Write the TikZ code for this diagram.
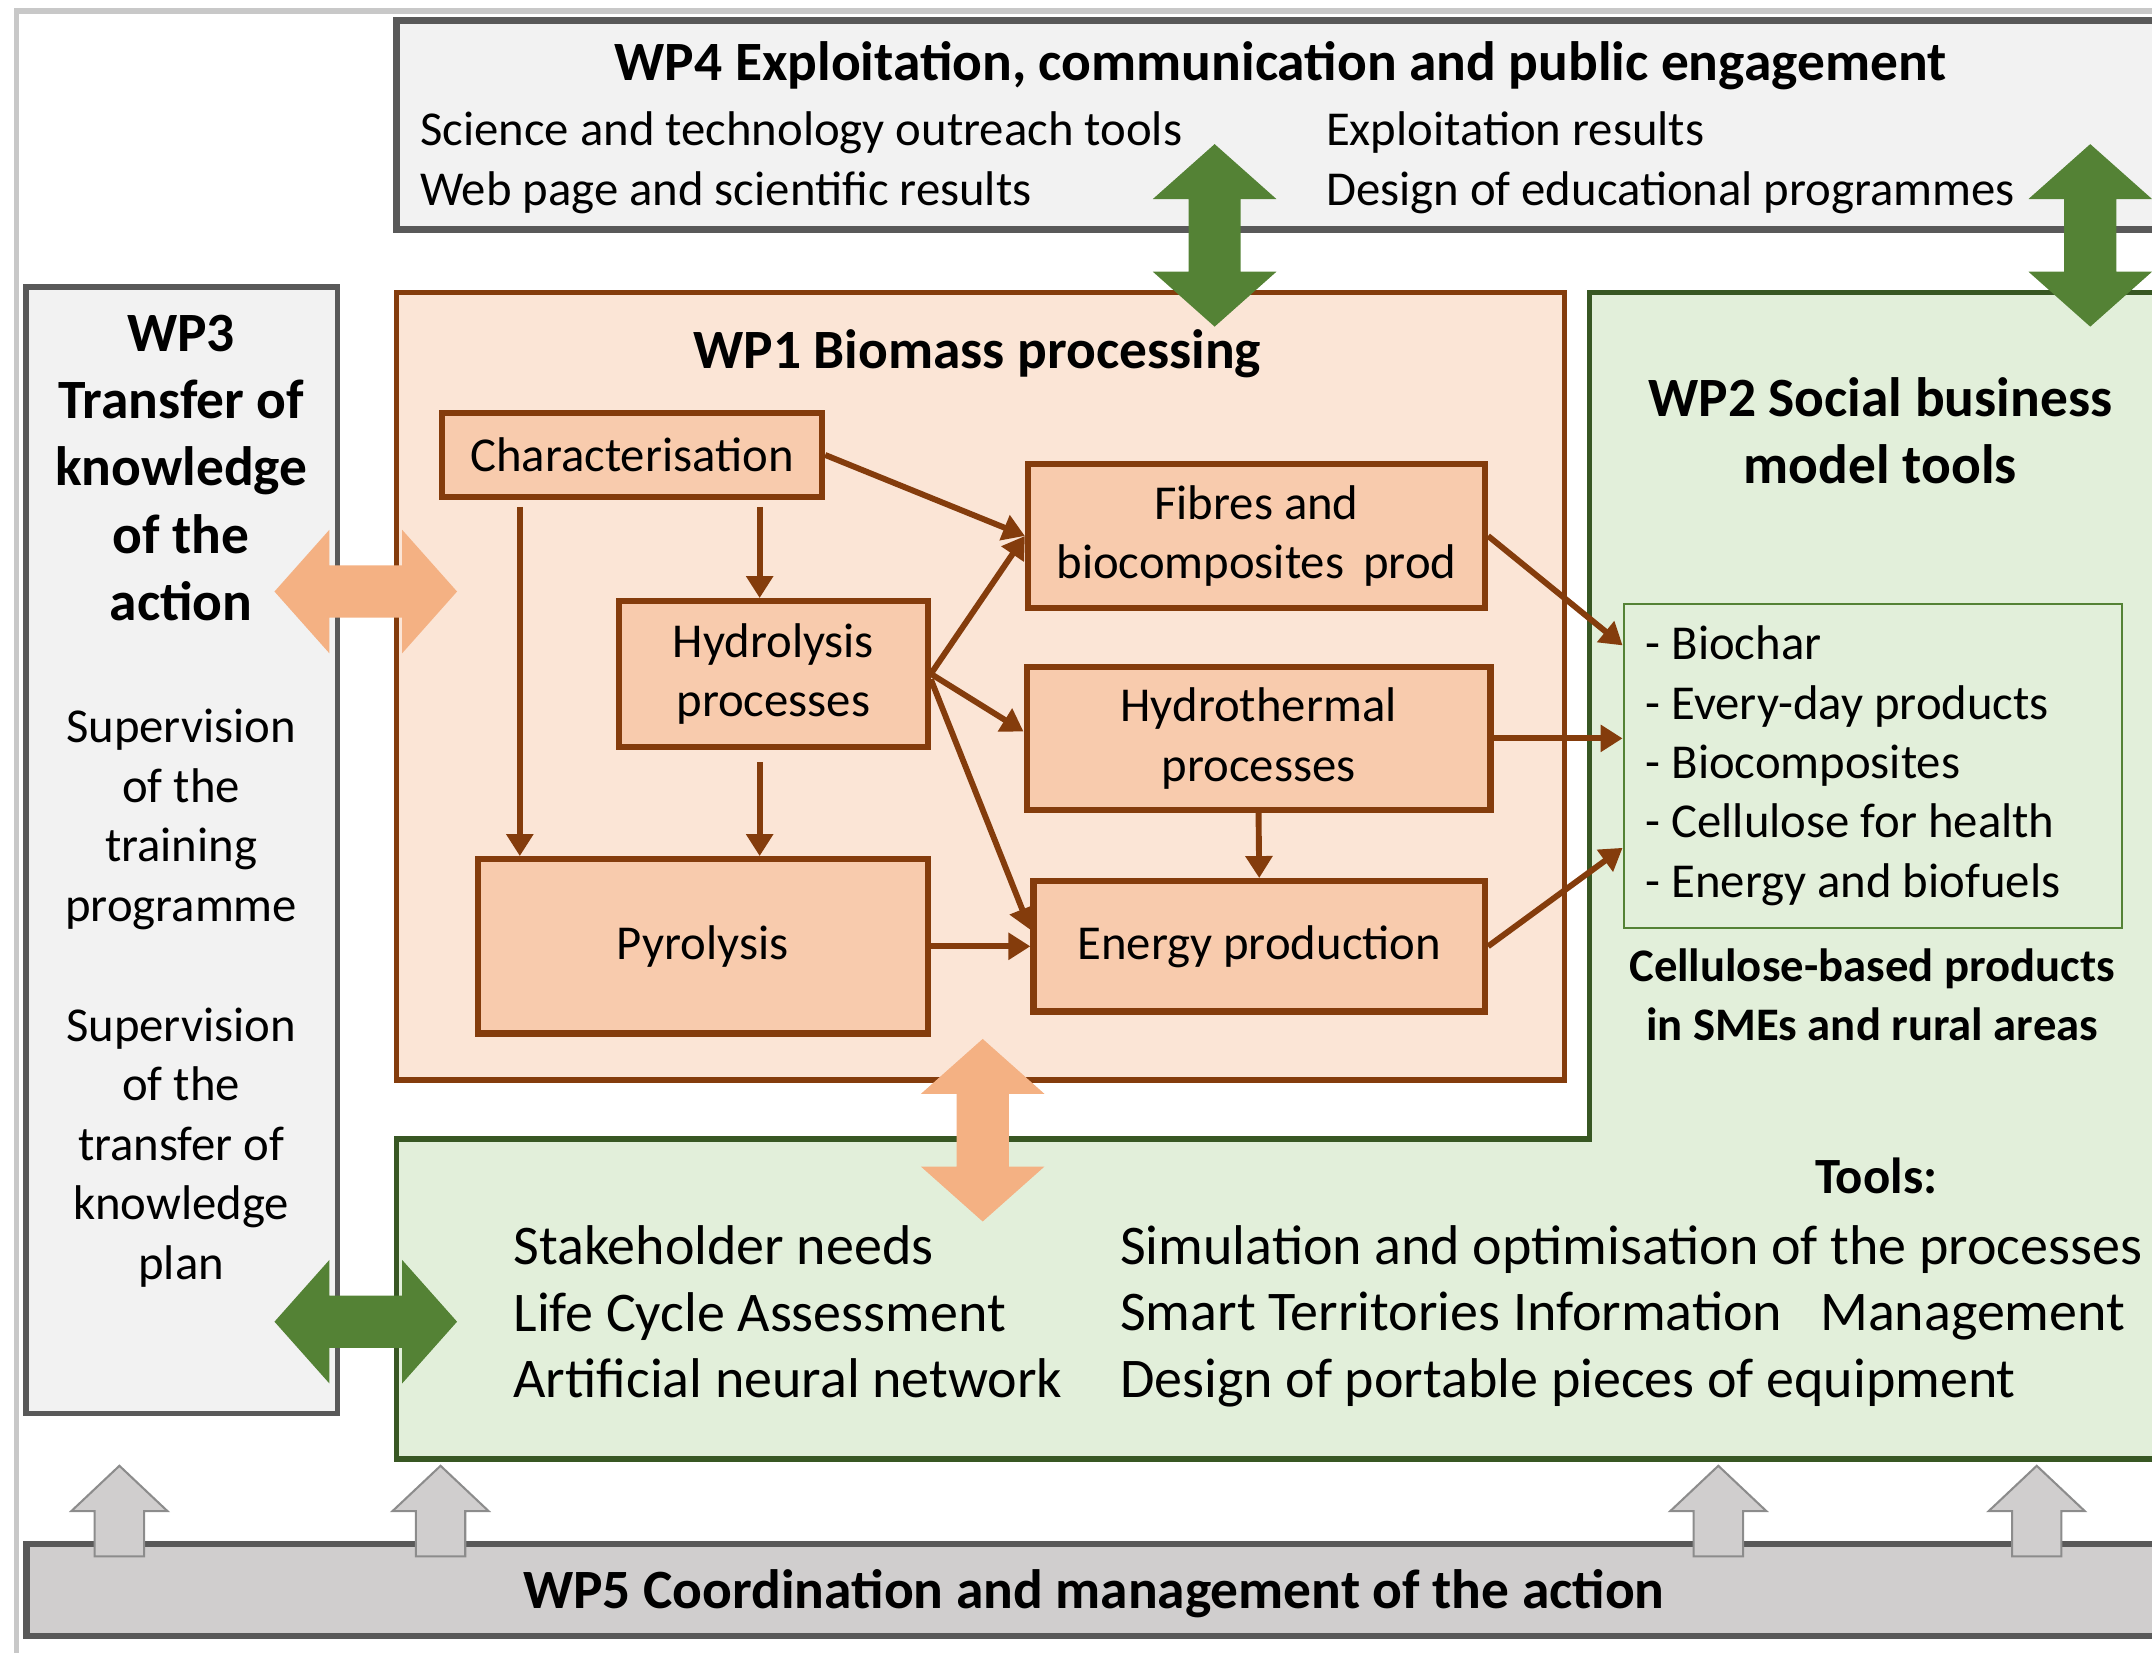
\documentclass[tikz,border=0pt]{standalone}
\usepackage{fontspec}
\setmainfont{Carlito}
\usetikzlibrary{arrows.meta, positioning}

\definecolor{wpgray}{HTML}{F2F2F2}
\definecolor{wpline}{HTML}{595959}
\definecolor{wpframe}{HTML}{C8C8C8}
\definecolor{wpbrown}{HTML}{843C0C}
\definecolor{wpsalmon}{HTML}{FBE5D6}
\definecolor{wppeach}{HTML}{F8CBAD}
\definecolor{wporange}{HTML}{F4B183}
\definecolor{wpmint}{HTML}{E2EFDA}
\definecolor{wpgreen}{HTML}{385723}
\definecolor{wpleaf}{HTML}{548235}
\definecolor{wpsilver}{HTML}{D0CECE}
\definecolor{wpedge}{HTML}{8C8C8C}

\begin{document}
\begin{tikzpicture}[x=1pt, y=-1pt,
    every node/.style={inner sep=0pt},
    body/.style={font=\fontsize{35.5}{43.3}\selectfont},
    big/.style={font=\fontsize{40.8}{48.5}\selectfont},
    head/.style={font=\fontsize{40.4}{49}\selectfont\bfseries},
    wpbox/.style={draw=wpline, fill=wpgray, line width=4pt},
    procbox/.style={draw=wpbrown, fill=wppeach, line width=4.5pt, body, align=center},
    flow/.style={draw=wpbrown, line width=4.3pt, -{Triangle[length=16pt, width=19pt]}},
    dblarrow/.pic={\fill[pic actions] (-66.5,0) -- (-26.5,-45) -- (-26.5,-19) -- (26.5,-19)
        -- (26.5,-45) -- (66.5,0) -- (26.5,45) -- (26.5,19) -- (-26.5,19) -- (-26.5,45) -- cycle;},
    uparrow/.pic={\filldraw[pic actions] (0,0) -- (35,33) -- (18,33) -- (18,66) -- (-18,66)
        -- (-18,33) -- (-35,33) -- cycle;}
]
    \useasboundingbox (0,0) rectangle (1568,1204);
    \clip (0,0) rectangle (1568,1204);

    % outer frame
    \draw[wpframe, line width=4pt] (12,1230) -- (12,8) -- (1600,8);

    % WP4
    \node[wpbox, line width=5pt, minimum width=1351pt, minimum height=152pt] (wp4) at (964.5,91) {};
    \node[head] (wp4title) at (933,48) {WP4 Exploitation, communication and public engagement};
    \node[body, align=left, anchor=west] (wp4left) at (306,118.5)
        {Science and technology outreach tools\\Web page and scientific results};
    \node[body, align=left, anchor=west] (wp4right) at (966,118.5)
        {Exploitation results\\Design of educational programmes};

    % WP3
    \node[wpbox, minimum width=227pt, minimum height=821pt] (wp3) at (132.5,619.5) {};
    \node[head, align=center] (wp3title) at (132,341) {WP3\\Transfer of\\knowledge\\of the\\action};
    \node[body, align=center] (sup1) at (132,597) {Supervision\\of the\\training\\programme};
    \node[body, align=center] (sup2) at (132,836) {Supervision\\of the\\transfer of\\knowledge\\plan};

    % WP1
    \node[draw=wpbrown, fill=wpsalmon, line width=4pt, minimum width=851pt, minimum height=574pt] (wp1) at (714.5,500) {};
    \node[head] (wp1title) at (712,258) {WP1 Biomass processing};

    % WP2
    \draw[draw=wpgreen, fill=wpmint, line width=4pt]
        (1158,213) -- (1600,213) -- (1600,1063) -- (289,1063) -- (289,830) -- (1158,830) -- cycle;
    \node[head, align=center] (wp2title) at (1370,314) {WP2 Social business\\model tools};
    \node[draw=wpleaf, fill=wpmint, line width=1.5pt, body, align=flush left, text width=331pt,
        inner sep=16pt, minimum height=236pt] (list) at (1364.5,558)
        {- Biochar\\- Every-day products\\- Biocomposites\\- Cellulose for health\\- Energy and biofuels};
    \node[font=\fontsize{34}{43}\selectfont\bfseries, align=center] (sme) at (1364,724.5)
        {Cellulose-based products\\in SMEs and rural areas};
    \node[font=\fontsize{37}{45}\selectfont\bfseries] (tools) at (1367,857) {Tools:};
    \node[big, align=left, anchor=west] (toolsleft) at (374,956)
        {Stakeholder needs\\Life Cycle Assessment\\Artificial neural network};
    \node[big, align=left, anchor=west] (toolsright) at (816,959)
        {Simulation and optimisation of the processes\\Smart Territories Information\hspace{0.45em} Management\\Design of portable pieces of equipment};

    % WP5
    \node[wpbox, fill=wpsilver, line width=5pt, minimum width=1621pt, minimum height=67pt] (wp5) at (829.5,1158.5) {};
    \node[head] (wp5title) at (797,1161) {WP5 Coordination and management of the action};

    % WP1 processes
    \node[procbox, minimum width=277pt, minimum height=61pt] (char) at (460.5,331.5) {Characterisation};
    \node[procbox, minimum width=225pt, minimum height=106pt] (hydro) at (563.5,491) {Hydrolysis\\processes};
    \node[procbox, minimum width=333pt, minimum height=105pt] (fibres) at (915.5,390.5) {Fibres and\\biocomposites\, prod};
    \node[procbox, minimum width=338pt, minimum height=104pt] (thermal) at (917,538) {Hydrothermal\\processes};
    \node[procbox, minimum width=328pt, minimum height=127pt] (pyro) at (512,689.5) {Pyrolysis};
    \node[procbox, minimum width=329pt, minimum height=95pt] (energy) at (917.5,689.5) {Energy production};

    \coordinate (hin) at ([xshift=-10pt]hydro.north);
    \coordinate (pin1) at ([xshift=33pt]pyro.north west);
    \coordinate (pin2) at (hin |- pyro.north);

    \draw[flow] (char.east) -- (fibres.west);
    \draw[flow, shorten <=5pt] (char.south -| pin1) -- (pin1);
    \draw[flow, shorten <=5pt] (char.south -| hin) -- (hin);
    \draw[flow, shorten <=9pt] (hydro.south -| pin2) -- (pin2);
    \draw[flow] (hydro.east) -- (fibres.west);
    \draw[flow] (hydro.east) -- ([yshift=5pt]thermal.west);
    \draw[flow] ([yshift=-4pt]hydro.east) -- ([yshift=12pt]energy.west);
    \draw[flow] (pyro.east) -- (energy.west);
    \draw[flow] (thermal.south) -- (energy.north);
    \draw[flow] (fibres.east) -- ([yshift=-31pt]list.north west);
    \draw[flow] (thermal.east) -- (thermal.east -| list.west);
    \draw[flow] (energy.east) -- ([yshift=59pt]list.south west);

    % links between work packages
    \pic[fill=wporange] at (266.5,431) {dblarrow};
    \pic[fill=wpleaf] at (266.5,963) {dblarrow};
    \pic[fill=wpleaf, rotate=90] at (885,171.5) {dblarrow};
    \pic[fill=wpleaf, rotate=90] at (1523,171.5) {dblarrow};
    \pic[fill=wporange, rotate=90] at (716,823.5) {dblarrow};

    \foreach \ax in {87,321,1252,1484}
        \pic[fill=wpsilver, draw=wpedge, line width=1.5pt] at (\ax,1068) {uparrow};
\end{tikzpicture}
\end{document}
